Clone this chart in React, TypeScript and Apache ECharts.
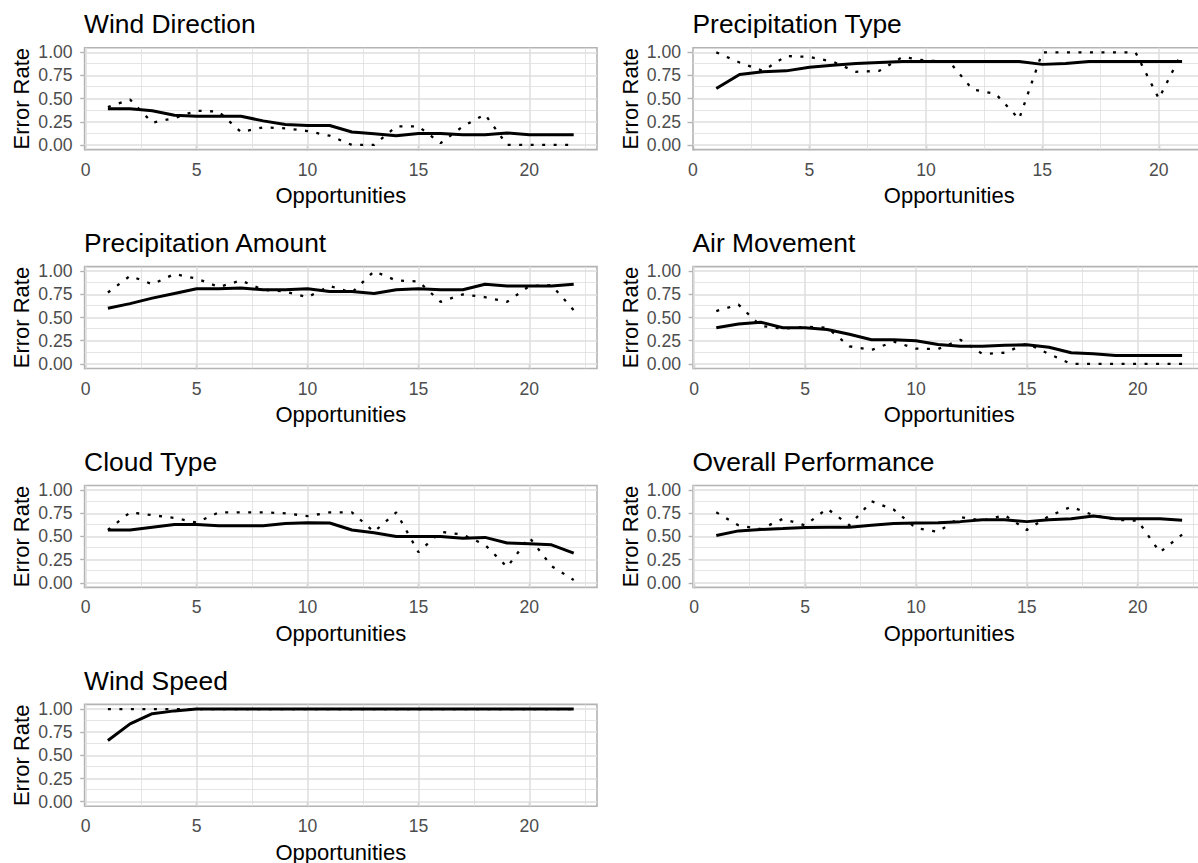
import React, { useEffect, useRef } from "react";
import * as echarts from "echarts";

// ---------- data ----------
const opportunities22 = [1, 2, 3, 4, 5, 6, 7, 8, 9, 10, 11, 12, 13, 14, 15, 16, 17, 18, 19, 20, 21, 22];
const opportunities21 = [1, 2, 3, 4, 5, 6, 7, 8, 9, 10, 11, 12, 13, 14, 15, 16, 17, 18, 19, 20, 21];

const windDirectionObserved = [0.41, 0.49, 0.24, 0.29, 0.37, 0.36, 0.14, 0.19, 0.18, 0.15, 0.1, 0.0, 0.0, 0.2, 0.2, 0.02, 0.2, 0.33, 0.0, 0.0, 0.0, 0.0];
const windDirectionFitted = [0.39, 0.39, 0.37, 0.32, 0.31, 0.31, 0.31, 0.26, 0.22, 0.21, 0.21, 0.14, 0.12, 0.1, 0.125, 0.125, 0.11, 0.11, 0.13, 0.11, 0.11, 0.11];

const precipTypeObserved = [1.0, 0.89, 0.8, 0.96, 0.95, 0.9, 0.79, 0.8, 0.95, 0.91, 0.9, 0.6, 0.55, 0.28, 1.0, 1.0, 1.0, 1.0, 1.0, 0.5, 1.0];
const precipTypeFitted = [0.61, 0.76, 0.79, 0.8, 0.84, 0.86, 0.88, 0.89, 0.9, 0.9, 0.9, 0.9, 0.9, 0.9, 0.87, 0.88, 0.9, 0.9, 0.9, 0.9, 0.9];

const precipAmountObserved = [0.77, 0.95, 0.86, 0.97, 0.92, 0.83, 0.9, 0.8, 0.78, 0.72, 0.84, 0.77, 1.0, 0.9, 0.89, 0.67, 0.75, 0.72, 0.67, 0.84, 0.85, 0.58];
const precipAmountFitted = [0.6, 0.65, 0.71, 0.76, 0.81, 0.81, 0.82, 0.8, 0.8, 0.81, 0.78, 0.78, 0.76, 0.8, 0.81, 0.8, 0.8, 0.86, 0.84, 0.84, 0.84, 0.86];

const airMovementObserved = [0.57, 0.64, 0.41, 0.38, 0.4, 0.39, 0.19, 0.15, 0.24, 0.165, 0.16, 0.26, 0.107, 0.12, 0.22, 0.107, 0.0, 0.0, 0.0, 0.0, 0.0, 0.0];
const airMovementFitted = [0.39, 0.43, 0.45, 0.39, 0.39, 0.37, 0.32, 0.26, 0.26, 0.25, 0.21, 0.19, 0.19, 0.2, 0.207, 0.18, 0.12, 0.11, 0.09, 0.09, 0.09, 0.09];

const cloudTypeObserved = [0.57, 0.76, 0.73, 0.7, 0.65, 0.76, 0.76, 0.76, 0.75, 0.72, 0.76, 0.76, 0.55, 0.76, 0.33, 0.55, 0.52, 0.41, 0.17, 0.49, 0.18, 0.03];
const cloudTypeFitted = [0.57, 0.57, 0.6, 0.63, 0.63, 0.615, 0.615, 0.615, 0.64, 0.647, 0.645, 0.57, 0.54, 0.5, 0.5, 0.5, 0.48, 0.49, 0.43, 0.42, 0.41, 0.32];

const overallObserved = [0.76, 0.62, 0.58, 0.69, 0.62, 0.8, 0.62, 0.88, 0.79, 0.59, 0.55, 0.71, 0.67, 0.73, 0.57, 0.72, 0.82, 0.73, 0.68, 0.67, 0.33, 0.52];
const overallFitted = [0.51, 0.56, 0.575, 0.585, 0.597, 0.6, 0.6, 0.62, 0.64, 0.645, 0.647, 0.66, 0.68, 0.68, 0.66, 0.68, 0.69, 0.72, 0.69, 0.69, 0.69, 0.676];

const windSpeedObserved = [1, 1, 1, 1, 1, 1, 1, 1, 1, 1, 1, 1, 1, 1, 1, 1, 1, 1, 1, 1, 1, 1];
const windSpeedFitted = [0.66, 0.84, 0.95, 0.98, 1, 1, 1, 1, 1, 1, 1, 1, 1, 1, 1, 1, 1, 1, 1, 1, 1, 1];

const xTickValues = [0, 5, 10, 15, 20];
const xMinorValues = [2.5, 7.5, 12.5, 17.5, 22.5];
const yTickValues = [0, 0.25, 0.5, 0.75, 1];
const yMinorValues = [0.125, 0.375, 0.625, 0.875];

const panels = [
  { title: "Wind Direction", x: opportunities22, observed: windDirectionObserved, fitted: windDirectionFitted },
  { title: "Precipitation Type", x: opportunities21, observed: precipTypeObserved, fitted: precipTypeFitted },
  { title: "Precipitation Amount", x: opportunities22, observed: precipAmountObserved, fitted: precipAmountFitted },
  { title: "Air Movement", x: opportunities22, observed: airMovementObserved, fitted: airMovementFitted },
  { title: "Cloud Type", x: opportunities22, observed: cloudTypeObserved, fitted: cloudTypeFitted },
  { title: "Overall Performance", x: opportunities22, observed: overallObserved, fitted: overallFitted },
  { title: "Wind Speed", x: opportunities22, observed: windSpeedObserved, fitted: windSpeedFitted },
];

// ---------- layout ----------
const FONT = "'Liberation Sans', Arial, Helvetica, sans-serif";
const colLeft = [84.6, 693];
const rowTop = [47.7, 266.6, 485.5, 704.4];
const panelW = 512.4;
const panelH = 101.9;
const GRID_COLOR = "#DEDEDE";
const FRAME_COLOR = "#B3B3B3";

function buildOption() {
  const grid: any[] = [];
  const xAxis: any[] = [];
  const yAxis: any[] = [];
  const title: any[] = [];
  const series: any[] = [];

  panels.forEach((p, i) => {
    const col = i % 2;
    const row = Math.floor(i / 2);
    const left = colLeft[col];
    const top = rowTop[row];
    const xs = p.x;
    const lo = xs[0];
    const hi = xs[xs.length - 1];
    const pad = (hi - lo) * 0.05;
    const xmin = lo - pad;
    const xmax = hi + pad;
    const ymin = -0.05;
    const ymax = 1.05;

    grid.push({
      left,
      top,
      width: panelW,
      height: panelH,
      show: true,
      borderColor: FRAME_COLOR,
      borderWidth: 1.6,
      backgroundColor: "transparent",
      containLabel: false,
      outerBoundsMode: "none",
    });

    title.push({
      text: p.title,
      left: left - 0.5,
      top: top - 36.6,
      padding: 0,
      textStyle: { fontFamily: FONT, fontSize: 26.4, fontWeight: "normal", color: "#000" },
    });

    xAxis.push({
      type: "value",
      gridIndex: i,
      min: xmin,
      max: xmax,
      name: "Opportunities",
      nameLocation: "middle",
      nameGap: 35,
      nameTextStyle: { fontFamily: FONT, fontSize: 22, color: "#000" },
      axisLine: { show: false },
      axisTick: {
        show: true,
        length: 5.5,
        customValues: xTickValues,
        lineStyle: { color: FRAME_COLOR, width: 1.4 },
      },
      axisLabel: {
        show: true,
        customValues: xTickValues,
        margin: 11,
        fontFamily: FONT,
        fontSize: 17.6,
        color: "#4D4D4D",
        formatter: (v: number) => String(Math.round(v)),
      },
      splitLine: { show: false },
      minorTick: { show: false },
      minorSplitLine: { show: false },
    });

    yAxis.push({
      type: "value",
      gridIndex: i,
      min: ymin,
      max: ymax,
      name: "Error Rate",
      nameLocation: "middle",
      nameGap: 52,
      nameTextStyle: { fontFamily: FONT, fontSize: 22, color: "#000" },
      axisLine: { show: false },
      axisTick: {
        show: true,
        length: 5.5,
        customValues: yTickValues,
        lineStyle: { color: FRAME_COLOR, width: 1.4 },
      },
      axisLabel: {
        show: true,
        customValues: yTickValues,
        margin: 12,
        fontFamily: FONT,
        fontSize: 17.6,
        color: "#4D4D4D",
        formatter: (v: number) => v.toFixed(2),
      },
      splitLine: { show: false },
    });

    const lineData: any[] = [];
    xMinorValues
      .filter((v) => v > xmin && v < xmax)
      .forEach((v) => lineData.push({ xAxis: v, lineStyle: { color: GRID_COLOR, width: 0.8, type: "solid" } }));
    yMinorValues.forEach((v) =>
      lineData.push({ yAxis: v, lineStyle: { color: GRID_COLOR, width: 0.8, type: "solid" } })
    );
    xTickValues
      .filter((v) => v > xmin && v < xmax)
      .forEach((v) => lineData.push({ xAxis: v, lineStyle: { color: GRID_COLOR, width: 1.5, type: "solid" } }));
    yTickValues.forEach((v) =>
      lineData.push({ yAxis: v, lineStyle: { color: GRID_COLOR, width: 1.5, type: "solid" } })
    );

    series.push({
      type: "line",
      xAxisIndex: i,
      yAxisIndex: i,
      data: [],
      silent: true,
      z: 1,
      markLine: {
        silent: true,
        z: 1,
        symbol: ["none", "none"],
        label: { show: false },
        emphasis: { disabled: true },
        animation: false,
        data: lineData,
      },
    });

    series.push({
      type: "line",
      xAxisIndex: i,
      yAxisIndex: i,
      data: xs.map((x, k) => [x, p.observed[k]]),
      showSymbol: false,
      symbol: "none",
      silent: true,
      z: 10,
      lineStyle: { color: "#000", width: 2.3, type: [3, 8.5], cap: "butt" },
    });

    series.push({
      type: "line",
      xAxisIndex: i,
      yAxisIndex: i,
      data: xs.map((x, k) => [x, p.fitted[k]]),
      showSymbol: false,
      symbol: "none",
      silent: true,
      z: 11,
      lineStyle: { color: "#000", width: 3, type: "solid" },
    });
  });

  return {
    animation: false,
    backgroundColor: "#FFFFFF",
    title,
    grid,
    xAxis,
    yAxis,
    series,
  };
}

export default function App() {
  const ref = useRef<HTMLDivElement | null>(null);

  useEffect(() => {
    if (!ref.current) return;
    const chart = echarts.init(ref.current, undefined, { renderer: "svg" });
    chart.setOption(buildOption() as any);
    return () => {
      chart.dispose();
    };
  }, []);

  return (
    <div
      ref={ref}
      style={{ position: "absolute", left: 0, top: 0, width: 1198, height: 863, background: "#fff" }}
    />
  );
}
